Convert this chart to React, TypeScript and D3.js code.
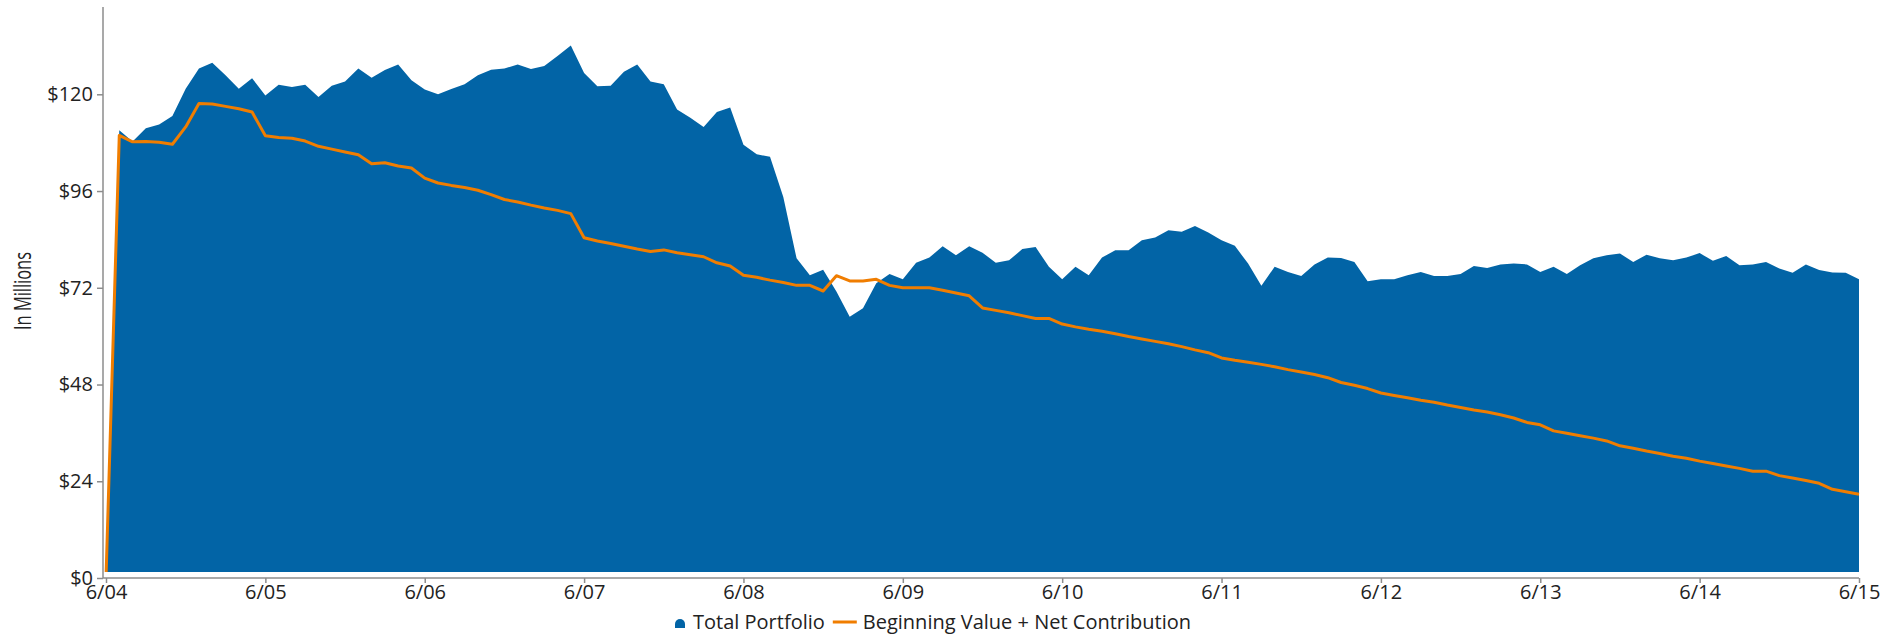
import React, { useEffect, useRef } from "react";
import * as d3 from "d3";

// Monthly values (in $ millions), June 2004 through June 2015
const totalPortfolio: number[] = [
  0, 111.1, 108.3, 111.6, 112.5, 114.6, 121.4, 126.4, 127.8, 124.7, 121.4, 124.0,
  119.7, 122.4, 121.8, 122.4, 119.3, 122.1, 123.2, 126.4, 124.1, 126.0, 127.4, 123.5,
  121.2, 120.0, 121.3, 122.5, 124.7, 126.1, 126.4, 127.4, 126.3, 127.0, 129.5, 132.1,
  125.3, 122.0, 122.1, 125.6, 127.4, 123.2, 122.5, 116.2, 114.2, 111.9, 115.6, 116.7,
  107.5, 105.1, 104.5, 94.5, 79.3, 75.1, 76.5, 71.1, 64.8, 66.9, 73.1, 75.4,
  74.1, 78.2, 79.5, 82.3, 80.1, 82.3, 80.7, 78.2, 78.8, 81.6, 82.1, 77.2,
  74.1, 77.2, 75.1, 79.5, 81.3, 81.3, 83.8, 84.5, 86.3, 85.9, 87.3, 85.7,
  83.8, 82.4, 78.0, 72.5, 77.2, 75.9, 74.9, 77.8, 79.5, 79.4, 78.4, 73.6,
  74.1, 74.1, 75.1, 75.9, 74.9, 74.9, 75.4, 77.4, 76.9, 77.8, 78.0, 77.8,
  75.9, 77.2, 75.4, 77.6, 79.3, 80.1, 80.5, 78.4, 80.2, 79.3, 78.8, 79.5,
  80.6, 78.7, 79.9, 77.6, 77.8, 78.4, 76.8, 75.7, 77.8, 76.4, 75.8, 75.7,
  74.1,
];

const beginningPlusNet: number[] = [
  0, 109.8, 108.2, 108.3, 108.1, 107.6, 111.9, 117.7, 117.6, 117.0, 116.4, 115.6,
  109.7, 109.3, 109.1, 108.4, 107.1, 106.4, 105.7, 105.0, 102.8, 103.0, 102.2, 101.7,
  99.2, 98.0, 97.4, 96.9, 96.2, 95.1, 93.9, 93.3, 92.5, 91.8, 91.2, 90.4,
  84.4, 83.6, 83.0, 82.3, 81.6, 81.0, 81.4, 80.7, 80.2, 79.7, 78.2, 77.4,
  75.1, 74.6, 73.9, 73.3, 72.6, 72.6, 71.2, 75.0, 73.7, 73.7, 74.1, 72.6,
  72.0, 72.0, 72.0, 71.4, 70.7, 70.0, 67.0, 66.4, 65.8, 65.1, 64.4, 64.4,
  63.0, 62.3, 61.7, 61.2, 60.6, 59.9, 59.3, 58.7, 58.1, 57.4, 56.6, 55.9,
  54.6, 54.0, 53.5, 53.0, 52.4, 51.7, 51.1, 50.5, 49.7, 48.5, 47.8, 47.0,
  45.9, 45.3, 44.7, 44.1, 43.6, 42.9, 42.3, 41.7, 41.2, 40.5, 39.7, 38.6,
  38.0, 36.5, 35.9, 35.3, 34.7, 34.0, 32.8, 32.2, 31.5, 30.9, 30.2, 29.7,
  29.0, 28.4, 27.8, 27.2, 26.5, 26.5, 25.4, 24.8, 24.2, 23.5, 22.0, 21.4,
  20.8,
];

const xTickLabels: string[] = [
  "6/04", "6/05", "6/06", "6/07", "6/08", "6/09", "6/10", "6/11", "6/12", "6/13", "6/14", "6/15",
];
const yTickValues: number[] = [0, 24, 48, 72, 96, 120];

const seriesNames = ["Total Portfolio", "Beginning Value + Net Contribution"];

const BLUE = "#0264a6";
const ORANGE = "#f07d00";
const FONT = "'Open Sans', 'Noto Sans', sans-serif";
const FS = 20;

export default function App() {
  const ref = useRef<SVGSVGElement | null>(null);

  useEffect(() => {
    const svg = d3.select(ref.current);
    svg.selectAll("*").remove();

    const W = 1898, H = 636;
    const axisX = 103;
    const axisY = 578;
    const plotLeft = 106, plotRight = 1859;
    const plotTop = 7;
    const areaBottom = 572;

    const x = d3.scaleLinear().domain([0, totalPortfolio.length - 1]).range([plotLeft, plotRight]);
    const y = d3.scaleLinear().domain([0, 120]).range([axisY, 94.3]);

    const defs = svg.append("defs");
    defs.append("clipPath").attr("id", "plotclip")
      .append("rect").attr("x", plotLeft - 2).attr("y", 0)
      .attr("width", plotRight - plotLeft + 4).attr("height", areaBottom);

    const g = svg.append("g").attr("clip-path", "url(#plotclip)");

    const area = d3.area<number>()
      .x((_, i) => x(i))
      .y0(y(0))
      .y1((d) => y(d));
    g.append("path").datum(totalPortfolio).attr("d", area).attr("fill", BLUE);

    const line = d3.line<number>().x((_, i) => x(i)).y((d) => y(d));
    g.append("path").datum(beginningPlusNet).attr("d", line)
      .attr("fill", "none").attr("stroke", ORANGE).attr("stroke-width", 3)
      .attr("stroke-linejoin", "round");

    // Y axis
    const yAxis = d3.axisLeft(y).tickValues(yTickValues).tickSize(6).tickSizeOuter(0)
      .tickFormat((d) => `$${d}`);
    const yg = svg.append("g").attr("transform", `translate(${axisX},0)`).call(yAxis);
    yg.select(".domain").remove();
    yg.selectAll(".tick line").attr("stroke", "#8c8c8c").attr("stroke-width", 1.5);
    yg.selectAll(".tick text").attr("font-family", FONT).attr("font-size", FS)
      .attr("fill", "#222").attr("x", -10);
    svg.append("line").attr("x1", axisX).attr("x2", axisX).attr("y1", plotTop).attr("y2", axisY)
      .attr("stroke", "#8c8c8c").attr("stroke-width", 1.5);

    // X axis
    const xTickIdx = xTickLabels.map((_, i) => i * 12);
    const xAxis = d3.axisBottom(x).tickValues(xTickIdx).tickSize(5).tickSizeOuter(0)
      .tickFormat((_, i) => xTickLabels[i]);
    const xg = svg.append("g").attr("transform", `translate(0,${axisY})`).call(xAxis);
    xg.select(".domain").remove();
    xg.selectAll(".tick line").attr("stroke", "#8c8c8c").attr("stroke-width", 1.5);
    xg.selectAll(".tick text").attr("font-family", FONT).attr("font-size", FS)
      .attr("fill", "#222").attr("y", 7).attr("dy", "0.71em");
    svg.append("line").attr("x1", axisX).attr("x2", plotRight).attr("y1", axisY).attr("y2", axisY)
      .attr("stroke", "#8c8c8c").attr("stroke-width", 1.5);

    // Y axis title
    svg.append("text").attr("transform", `translate(31,291) rotate(-90)`)
      .attr("text-anchor", "middle").attr("font-family", FONT).attr("font-size", 23)
      .attr("fill", "#222").attr("textLength", 78).attr("lengthAdjust", "spacingAndGlyphs")
      .text("In Millions");

    // Legend
    const lg = svg.append("g").attr("font-family", FONT).attr("font-size", FS).attr("fill", "#222");
    lg.append("path").attr("d", "M675,628 L675,624 A5,5 0 0 1 685,624 L685,628 Z").attr("fill", BLUE);
    const t1 = lg.append("text").attr("x", 693).attr("y", 629).text(seriesNames[0]);
    const w1 = (t1.node() as SVGTextElement).getComputedTextLength();
    const lx = 693 + w1 + 8;
    lg.append("line").attr("x1", lx).attr("x2", lx + 24).attr("y1", 622).attr("y2", 622)
      .attr("stroke", ORANGE).attr("stroke-width", 3);
    lg.append("text").attr("x", lx + 30).attr("y", 629).text(seriesNames[1]);

    svg.attr("width", W).attr("height", H);
  }, []);

  return (
    <div style={{ position: "absolute", left: 0, top: 0 }}>
      <svg ref={ref} width={1898} height={636} style={{ display: "block", background: "#fff" }} />
    </div>
  );
}
